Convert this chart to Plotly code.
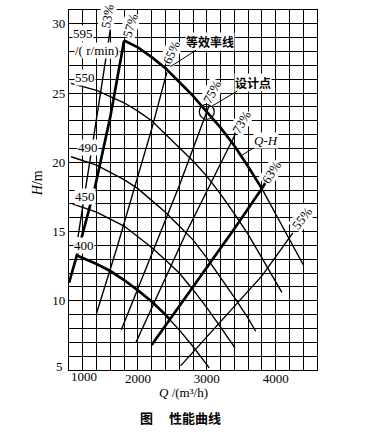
import plotly.graph_objects as go

# ---------------- data ----------------
# Q-H curves at different speeds (r/min)
q595 = [1800, 2000, 2200, 2400, 2600, 2800, 3000, 3200, 3400, 3600, 3800]
h595 = [28.8, 28.3, 27.6, 26.8, 25.8, 24.8, 23.65, 22.5, 21.2, 19.7, 18.1]
q595_tail = [3800, 4000, 4200, 4400]
h595_tail = [18.1, 16.3, 14.5, 12.6]

q550 = [1030, 1400, 1800, 2000, 2200, 2400, 2600, 2800, 3000, 3200, 3400, 3600, 3800, 4000, 4090]
h550 = [25.7, 25.2, 24.3, 23.7, 23.0, 22.05, 21.1, 20.1, 19.0, 17.7, 16.3, 14.8, 13.1, 11.4, 10.6]

q490 = [1030, 1400, 1800, 2000, 2200, 2400, 2600, 2800, 3000, 3200, 3400, 3600, 3710]
h490 = [20.4, 19.8, 18.75, 18.1, 17.25, 16.4, 15.4, 14.4, 13.1, 11.7, 10.25, 8.75, 7.8]

q450 = [1050, 1400, 1800, 2000, 2200, 2400, 2600, 2800, 3000, 3200, 3410]
h450 = [17.0, 16.4, 15.4, 14.6, 13.85, 12.95, 12.0, 10.8, 9.5, 8.1, 6.6]

q400 = [1100, 1400, 1600, 1800, 2000, 2200, 2400, 2460]
h400 = [13.3, 12.65, 12.15, 11.5, 10.75, 9.95, 9.0, 8.65]
q400_tail = [2460, 2600, 2800, 3000, 3036]
h400_tail = [8.65, 7.9, 6.7, 5.4, 5.15]

# iso-efficiency lines
q_e53 = [1130, 1240, 1420, 1600]
h_e53 = [14.6, 18.2, 23.8, 29.6]
q_e57 = [1000, 1110, 1377, 1600, 1800]
h_e57 = [11.3, 13.2, 18.2, 23.3, 28.8]
q_e65 = [1400, 1700, 2000, 2200, 2420]
h_e65 = [9.1, 13.9, 19.0, 22.4, 26.5]
q_e75 = [1760, 2200, 2600, 3000, 3040]
h_e75 = [7.9, 13.3, 18.3, 23.65, 24.2]
q_e73 = [1973, 2300, 2709, 3100, 3420]
h_e73 = [7.0, 10.6, 15.0, 18.9, 22.1]
q_e63 = [2200, 2600, 3000, 3400, 3800, 3860]
h_e63 = [6.8, 9.6, 12.4, 15.2, 18.1, 18.6]
q_e55 = [2620, 3000, 3400, 3800, 4250]
h_e55 = [5.3, 7.4, 9.6, 11.8, 14.9]

# design point
q_design = [3000]
h_design = [23.65]

# tick labels
x_tickvals = [2000, 3000, 4000]
x_ticktext = ["2000", "3000", "4000"]
y_tickvals = [10, 15, 20, 25, 30]
y_ticktext = ["10", "15", "20", "25", "30"]

# label texts / anchor positions
speed_labels = ["595", "550", "490", "450", "400"]
speed_label_q = [1203, 1232, 1281, 1232, 1218]
speed_label_h = [29.3, 26.1, 21.1, 17.5, 14.0]

eff_labels = ["53%", "57%", "65%", "75%", "73%", "63%", "55%"]
eff_label_q = [1552, 1886, 2481, 3069, 3504, 3932, 4378]
eff_label_h = [30.56, 29.9, 27.96, 25.07, 22.87, 19.3, 15.95]
eff_label_angle = [-80, -73, -66, -62, -60, -57, -52]

# ---------------- figure ----------------
SERIF = "Liberation Serif"
CJK = "Noto Sans CJK SC"
THIN = 1.4
THICK = 2.7
GRID = 1.2

fig = go.Figure()

def add_line(q, h, w):
    fig.add_trace(go.Scatter(x=q, y=h, mode="lines", line=dict(color="black", width=w),
                             hoverinfo="skip", showlegend=False))

add_line(q595, h595, THICK)
add_line(q595_tail, h595_tail, THIN)
add_line(q550, h550, THIN)
add_line(q490, h490, THIN)
add_line(q450, h450, THIN)
add_line(q400, h400, THICK)
add_line(q400_tail, h400_tail, THIN)

add_line(q_e53, h_e53, THIN)
add_line(q_e57, h_e57, THICK)
add_line(q_e65, h_e65, THIN)
add_line(q_e75, h_e75, THIN)
add_line(q_e73, h_e73, THIN)
add_line(q_e63, h_e63, THICK)
add_line(q_e55, h_e55, THIN)

fig.add_trace(go.Scatter(x=q_design, y=h_design, mode="markers",
                         marker=dict(symbol="circle-open", size=15, color="black", line=dict(width=1.2)),
                         hoverinfo="skip", showlegend=False))

ann = []
for t, q, h in zip(speed_labels, speed_label_q, speed_label_h):
    ann.append(dict(x=q, y=h, xref="x", yref="y", text=t, showarrow=False,
                    xanchor="center", yanchor="middle",
                    font=dict(family=SERIF, size=13, color="black"), bgcolor="white", borderpad=0))
ann.append(dict(x=1400, y=28.1, xref="x", yref="y", text="/( r/min)", showarrow=False,
                xanchor="center", yanchor="middle",
                font=dict(family=SERIF, size=13, color="black"), bgcolor="white", borderpad=0))

for t, q, h, a in zip(eff_labels, eff_label_q, eff_label_h, eff_label_angle):
    ann.append(dict(x=q, y=h, xref="x", yref="y", text=t, showarrow=False, textangle=a,
                    xanchor="center", yanchor="middle",
                    font=dict(family=SERIF, size=13, color="black"), bgcolor="white", borderpad=0))

# leader-labelled annotations
ann.append(dict(x=2470, y=26.9, xref="x", yref="y", ax=3047, ay=28.75, axref="x", ayref="y",
                text="<b>等效率线</b>", showarrow=True, arrowhead=0, arrowwidth=1, arrowcolor="black",
                font=dict(family=CJK, size=12, color="black"), bgcolor="white", borderpad=0))
ann.append(dict(x=3076, y=24.06, xref="x", yref="y", ax=3664, ay=25.8, axref="x", ayref="y",
                text="<b>设计点</b>", showarrow=True, arrowhead=0, arrowwidth=1, arrowcolor="black",
                font=dict(family=CJK, size=12, color="black"), bgcolor="white", borderpad=0))
ann.append(dict(x=3507, y=20.5, xref="x", yref="y", ax=3860, ay=21.6, axref="x", ayref="y",
                text="<i>Q-H</i>", showarrow=True, arrowhead=0, arrowwidth=1, arrowcolor="black",
                font=dict(family=SERIF, size=13, color="black"), bgcolor="white", borderpad=0))

# corner tick labels
ann.append(dict(x=1000, y=-0.0194, xref="x", yref="paper", text="1000", showarrow=False,
                xanchor="left", yanchor="middle", font=dict(family=SERIF, size=13, color="black")))
ann.append(dict(x=-0.016, y=0.011, xref="paper", yref="paper", text="5", showarrow=False,
                xanchor="right", yanchor="middle", font=dict(family=SERIF, size=13, color="black")))

# axis titles & caption
ann.append(dict(x=-0.129, y=0.519, xref="paper", yref="paper", text="<i>H</i>/m", showarrow=False,
                xanchor="center", yanchor="middle",
                textangle=-90, font=dict(family=SERIF, size=14, color="black")))
ann.append(dict(x=0.4637, y=-0.0625, xref="paper", yref="paper", text="<i>Q</i> /(m³/h)",
                xanchor="center", yanchor="middle",
                showarrow=False, font=dict(family=SERIF, size=13, color="black")))
ann.append(dict(x=0.4516, y=-0.1333, xref="paper", yref="paper", text="<b>图　 性能曲线</b>",
                xanchor="center", yanchor="middle",
                showarrow=False, font=dict(family=CJK, size=13, color="black")))

fig.update_layout(
    width=382, height=438,
    margin=dict(l=69, r=65, t=10, b=68),
    paper_bgcolor="white", plot_bgcolor="white",
    annotations=ann,
    showlegend=False,
)
fig.update_xaxes(
    range=[1000, 4600], tickmode="array", tickvals=x_tickvals, ticktext=x_ticktext,
    showgrid=True, gridcolor="black", gridwidth=GRID,
    minor=dict(tick0=1000, dtick=200, showgrid=True, gridcolor="black", gridwidth=GRID),
    showline=True, mirror=True, linecolor="black", linewidth=1.3,
    zeroline=False, ticks="", ticklabelstandoff=-4,
    tickfont=dict(family=SERIF, size=13, color="black"),
    fixedrange=True,
)
fig.update_yaxes(
    range=[5, 31], tickmode="array", tickvals=y_tickvals, ticktext=y_ticktext,
    showgrid=True, gridcolor="black", gridwidth=GRID,
    minor=dict(tick0=5, dtick=1, showgrid=True, gridcolor="black", gridwidth=GRID),
    showline=True, mirror=True, linecolor="black", linewidth=1.3,
    zeroline=False, ticks="", tickfont=dict(family=SERIF, size=13, color="black"),
    fixedrange=True,
)

fig.write_html("out.html", config={"displayModeBar": False},
               post_script="document.body.style.margin='0';")
